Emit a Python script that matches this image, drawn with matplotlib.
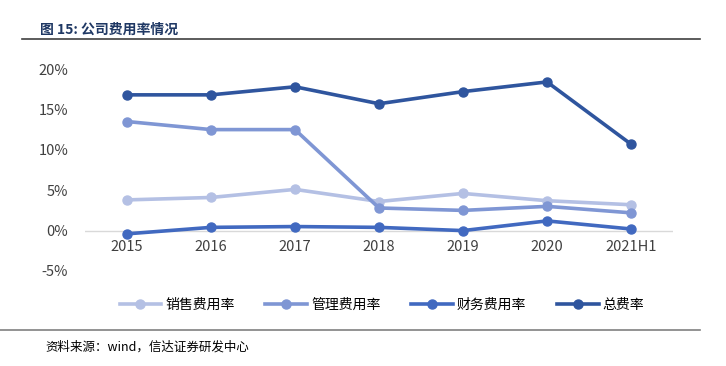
import numpy as np
import matplotlib.pyplot as plt
from matplotlib.lines import Line2D

plt.rcParams['font.family'] = ['Noto Sans CJK SC', 'DejaVu Sans']

categories = ['2015', '2016', '2017', '2018', '2019', '2020', '2021H1']
sales_rate = [3.8, 4.1, 5.1, 3.6, 4.6, 3.7, 3.2]
admin_rate = [13.5, 12.5, 12.5, 2.8, 2.5, 3.0, 2.2]
finance_rate = [-0.4, 0.4, 0.5, 0.4, 0.0, 1.2, 0.2]
total_rate = [16.8, 16.8, 17.8, 15.7, 17.2, 18.4, 10.7]
series_names = ['销售费用率', '管理费用率', '财务费用率', '总费率']

colors = ['#B4C0E4', '#7F96D4', '#4169C0', '#2F559E']

fig = plt.figure(figsize=(7.26, 3.66), dpi=100)
ax = fig.add_axes([85/726, 95/366, 588/726, 202/366])

x = np.arange(len(categories))
ax.axhline(0, color='#D9D9D9', lw=1, zorder=1)
for vals, c, name in zip([sales_rate, admin_rate, finance_rate, total_rate], colors, series_names):
    ax.plot(x, vals, color=c, lw=2.6, marker='o', ms=6.5, label=name, zorder=3)

ax.set_xlim(-0.5, len(categories) - 0.5)
ax.set_ylim(-5, 20)
ax.set_yticks([-5, 0, 5, 10, 15, 20])
ax.set_yticklabels(['%d%%' % v for v in [-5, 0, 5, 10, 15, 20]], fontsize=10.5, color='#404040')
ax.set_xticks([])
for i, c in enumerate(categories):
    ax.text(i, -1.2, c, ha='center', va='top', fontsize=10.5, color='#404040')
ax.tick_params(axis='y', length=0, pad=12)
for s in ax.spines.values():
    s.set_visible(False)

handles = [Line2D([0], [0], color=c, lw=2.6, marker='o', ms=6.5) for c in colors]
fig.legend(handles, series_names, loc='center', bbox_to_anchor=(382/726, 1 - 305/366),
           ncol=4, frameon=False, fontsize=10, handlelength=3, columnspacing=2.2,
           handletextpad=0.3)

# header and footer
fig.text(40/726, 1 - 30/366, '图 15: 公司费用率情况', fontsize=10, fontweight='bold',
         color='#1F3864', va='center')
fig.add_artist(Line2D([22/726, 700/726], [1 - 39/366, 1 - 39/366], color='#404040', lw=1.2))
fig.add_artist(Line2D([0, 700/726], [1 - 330/366, 1 - 330/366], color='#808080', lw=1.2))
fig.text(45/726, 1 - 347/366, '资料来源：wind，信达证券研发中心', fontsize=9, style='italic',
         color='#000000', va='center')

fig.savefig('out.png', dpi=100)
